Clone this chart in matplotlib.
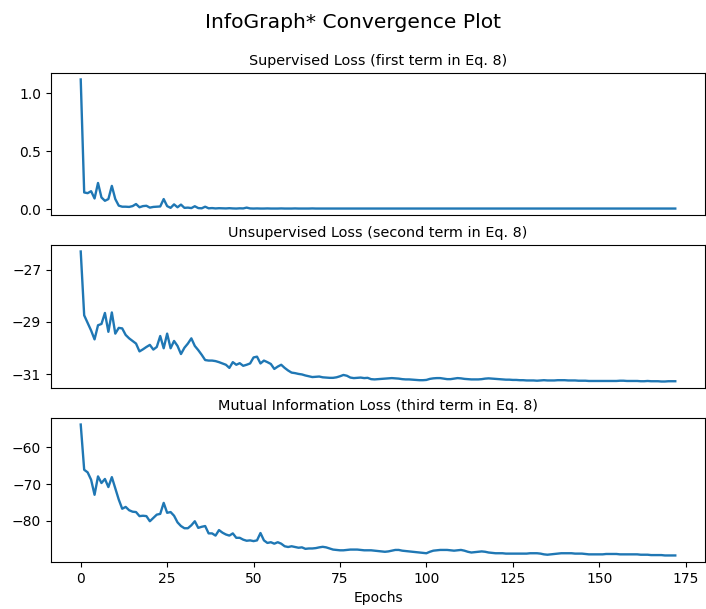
import numpy as np
import matplotlib
matplotlib.use('Agg')
import matplotlib.pyplot as plt

############################ DATA #########################################
sup_loss = [
    1.12, 0.143, 0.137, 0.154, 0.091, 0.225, 0.10, 0.071, 0.086, 0.20,
    0.086, 0.029, 0.020, 0.020, 0.018, 0.025, 0.043, 0.015, 0.025, 0.028,
    0.012, 0.018, 0.020, 0.022, 0.086, 0.025, 0.010, 0.040, 0.015, 0.038,
    0.010, 0.012, 0.008, 0.024, 0.008, 0.006, 0.020, 0.006, 0.008, 0.005,
    0.007, 0.006, 0.005, 0.007, 0.005, 0.004, 0.006, 0.005, 0.012, 0.005,
    0.004, 0.005, 0.004, 0.004, 0.005, 0.004, 0.004, 0.004, 0.005, 0.004,
    0.004, 0.004, 0.005, 0.004, 0.004, 0.004, 0.004, 0.005, 0.004, 0.004,
    0.004, 0.004, 0.004, 0.004, 0.004, 0.004, 0.004, 0.004, 0.004, 0.004,
    0.004, 0.004, 0.004, 0.004, 0.004, 0.004, 0.004, 0.004, 0.004, 0.004,
    0.004, 0.004, 0.004, 0.004, 0.004, 0.004, 0.004, 0.004, 0.004, 0.004,
    0.004, 0.004, 0.004, 0.004, 0.004, 0.004, 0.004, 0.004, 0.004, 0.004,
    0.004, 0.004, 0.004, 0.004, 0.004, 0.004, 0.004, 0.004, 0.004, 0.004,
    0.004, 0.004, 0.004, 0.004, 0.004, 0.004, 0.004, 0.004, 0.004, 0.004,
    0.004, 0.004, 0.004, 0.004, 0.004, 0.004, 0.004, 0.004, 0.004, 0.004,
    0.004, 0.004, 0.004, 0.004, 0.004, 0.004, 0.004, 0.004, 0.004, 0.004,
    0.004, 0.004, 0.004, 0.004, 0.004, 0.004, 0.004, 0.004, 0.004, 0.004,
    0.004, 0.004, 0.004, 0.004, 0.004, 0.004, 0.004, 0.004, 0.004, 0.004,
    0.004, 0.004, 0.004,
]

unsup_loss = [
    -26.31, -28.75, -29.04, -29.33, -29.67, -29.13, -29.08, -28.66, -29.38, -28.64,
    -29.45, -29.23, -29.25, -29.50, -29.63, -29.73, -29.83, -30.13, -30.05, -29.96,
    -29.88, -30.06, -29.96, -29.54, -30.01, -29.45, -30.01, -29.73, -29.92, -30.23,
    -29.99, -29.83, -29.63, -29.92, -30.08, -30.26, -30.46, -30.48, -30.48, -30.50,
    -30.54, -30.59, -30.64, -30.76, -30.54, -30.64, -30.58, -30.68, -30.64, -30.59,
    -30.36, -30.33, -30.59, -30.48, -30.54, -30.61, -30.80, -30.71, -30.64, -30.76,
    -30.86, -30.94, -30.96, -30.99, -31.01, -31.05, -31.08, -31.11, -31.10, -31.09,
    -31.12, -31.13, -31.14, -31.14, -31.12, -31.08, -31.03, -31.06, -31.13, -31.15,
    -31.14, -31.13, -31.15, -31.14, -31.19, -31.20, -31.19, -31.18, -31.17, -31.16,
    -31.15, -31.16, -31.17, -31.19, -31.20, -31.20, -31.21, -31.22, -31.23, -31.23,
    -31.22, -31.18, -31.16, -31.15, -31.15, -31.17, -31.19, -31.19, -31.17, -31.15,
    -31.16, -31.18, -31.19, -31.20, -31.20, -31.20, -31.19, -31.17, -31.16, -31.17,
    -31.18, -31.19, -31.20, -31.21, -31.21, -31.22, -31.22, -31.23, -31.23, -31.24,
    -31.24, -31.24, -31.25, -31.24, -31.23, -31.24, -31.24, -31.24, -31.23, -31.23,
    -31.23, -31.24, -31.24, -31.24, -31.25, -31.25, -31.25, -31.26, -31.26, -31.26,
    -31.26, -31.26, -31.26, -31.26, -31.26, -31.26, -31.25, -31.25, -31.26, -31.26,
    -31.26, -31.26, -31.27, -31.27, -31.26, -31.27, -31.27, -31.27, -31.28, -31.28,
    -31.27, -31.27, -31.27,
]

mi_loss = [
    -53.8, -66.1, -66.8, -68.8, -72.9, -67.9, -69.7, -68.6, -70.8, -68.1,
    -71.1, -74.2, -76.7, -76.2, -77.1, -77.5, -77.6, -78.7, -78.6, -78.7,
    -80.1, -79.2, -78.3, -78.1, -75.1, -77.8, -77.6, -78.6, -80.4, -81.4,
    -82.0, -82.0, -81.2, -80.1, -81.9, -81.6, -81.4, -83.4, -83.4, -84.0,
    -82.5, -83.2, -83.7, -84.0, -83.4, -84.6, -84.6, -85.1, -85.4, -85.3,
    -85.5, -85.3, -83.3, -85.3, -86.0, -85.8, -86.2, -85.8, -86.2, -86.9,
    -87.1, -86.9, -87.1, -87.3, -87.2, -87.6, -87.5, -87.5, -87.4, -87.2,
    -87.05, -87.2, -87.5, -87.8, -87.9, -88.0, -88.0, -87.9, -87.8, -87.8,
    -87.8, -87.9, -88.0, -88.0, -88.0, -88.1, -88.2, -88.3, -88.4, -88.3,
    -88.1, -87.9, -87.9, -88.1, -88.2, -88.3, -88.4, -88.5, -88.6, -88.7,
    -88.8, -88.4, -88.1, -88.0, -87.9, -87.9, -87.9, -88.0, -88.1, -88.0,
    -87.9, -88.1, -88.4, -88.6, -88.5, -88.4, -88.3, -88.4, -88.6, -88.7,
    -88.8, -88.8, -88.8, -88.9, -88.9, -88.9, -88.9, -88.9, -88.9, -88.9,
    -88.8, -88.8, -88.8, -88.9, -89.1, -89.2, -89.1, -89.0, -88.9, -88.8,
    -88.8, -88.8, -88.8, -88.9, -88.9, -88.9, -89.0, -89.1, -89.1, -89.1,
    -89.1, -89.1, -89.0, -89.0, -89.0, -89.0, -89.1, -89.1, -89.1, -89.1,
    -89.1, -89.1, -89.2, -89.2, -89.2, -89.3, -89.3, -89.3, -89.3, -89.4,
    -89.4, -89.4, -89.4,
]

titles = ['Supervised Loss (first term in Eq. 8)',
          'Unsupervised Loss (second term in Eq. 8)',
          'Mutual Information Loss (third term in Eq. 8)']
yticks = [[0.0, 0.5, 1.0], [-27, -29, -31], [-60, -70, -80]]
xticks = [0, 25, 50, 75, 100, 125, 150, 175]
############################ DATA #########################################

epochs = np.arange(len(sup_loss))

fig = plt.figure(figsize=(7.06, 6.09), dpi=100)
fig.suptitle('InfoGraph* Convergence Plot', fontsize=14.6, y=0.978)

left, width = 51 / 706, 654 / 706
positions = [(73, 215), (245, 388), (418, 562)]
series = [sup_loss, unsup_loss, mi_loss]

axes = []
for i, (top, bot) in enumerate(positions):
    ax = fig.add_axes([left, 1 - bot / 609, width, (bot - top) / 609])
    ax.plot(epochs, series[i], color='#1f77b4', lw=1.7)
    ax.set_title(titles[i], fontsize=10.4, pad=6)
    ax.set_yticks(yticks[i])
    ax.set_xlim(-8.6, 180.6)
    if i < 2:
        ax.set_xticks([])
    else:
        ax.set_xticks(xticks)
        ax.set_xlabel('Epochs')
    axes.append(ax)

axes[0].yaxis.set_major_formatter(matplotlib.ticker.FormatStrFormatter('%.1f'))

fig.savefig('out.png', dpi=100)
